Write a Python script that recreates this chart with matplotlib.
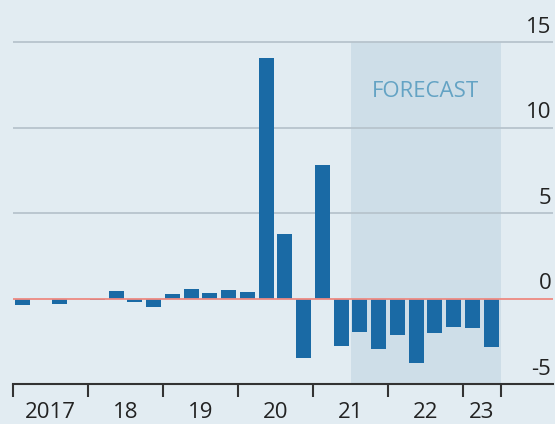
import numpy as np
import matplotlib
matplotlib.use("Agg")
import matplotlib.pyplot as plt

# quarterly values, 2017Q1 - 2023Q2
quarters = ["2017Q1", "2017Q2", "2017Q3", "2017Q4",
            "2018Q1", "2018Q2", "2018Q3", "2018Q4",
            "2019Q1", "2019Q2", "2019Q3", "2019Q4",
            "2020Q1", "2020Q2", "2020Q3", "2020Q4",
            "2021Q1", "2021Q2", "2021Q3", "2021Q4",
            "2022Q1", "2022Q2", "2022Q3", "2022Q4",
            "2023Q1", "2023Q2"]
values = [-0.4, 0.0, -0.33, 0.0,
          -0.06, 0.47, -0.18, -0.47,
          0.25, 0.55, 0.31, 0.5,
          0.37, 14.1, 3.78, -3.48,
          7.8, -2.75, -1.97, -2.96,
          -2.16, -3.78, -1.99, -1.64,
          -1.71, -2.82]
year_labels = ["2017", "18", "19", "20", "21", "22", "23"]
year_label_pos = [1.5, 5.5, 9.5, 13.5, 17.5, 21.5, 24.5]
year_ticks = [-0.5, 3.5, 7.5, 11.5, 15.5, 19.5, 23.5, 25.5]
yticks = [15, 10, 5, 0, -5]
forecast_start = 17.5   # start of 2021Q3
forecast_end = 25.5

bg = "#e2ecf2"
fig = plt.figure(figsize=(5.55, 4.24), dpi=100, facecolor=bg)
ax = fig.add_axes([13/555, 40/424, 540/555, 384/424])
ax.set_facecolor(bg)

x = np.arange(len(values))
ax.set_xlim(-0.5, 28.3)
ax.set_ylim(-5, 17.47)

# forecast shade
ax.fill_between([forecast_start, forecast_end], -5, 15, color="#cedee8", lw=0, zorder=0)
ax.text((forecast_start + forecast_end) / 2, 12.1, "FORECAST", color="#64a3c4",
        fontsize=16, ha="center", va="center", family="Open Sans")

for g in [5, 10, 15]:
    ax.axhline(g, color="#b7c4cd", lw=1.3, zorder=1)

ax.bar(x, values, width=0.8, color="#1a6aa5", zorder=2)
ax.axhline(0, color="#ee8a82", lw=1.3, zorder=3)

for v in yticks:
    ax.text(28.2, v + 0.25, str(v), ha="right", va="bottom", fontsize=16,
            color="#222222", family="Open Sans", zorder=4)

for s in ["top", "right", "left"]:
    ax.spines[s].set_visible(False)
ax.spines["bottom"].set_color("#333333")
ax.spines["bottom"].set_linewidth(1.5)
ax.set_yticks([])
ax.set_xticks(year_ticks)
ax.set_xticklabels([])
ax.tick_params(axis="x", length=9, width=1.5, color="#333333", direction="out")
ax.set_xticks(year_label_pos, minor=True)
ax.set_xticklabels(year_labels, minor=True, fontsize=16, color="#222222", family="Open Sans")
ax.tick_params(axis="x", which="minor", length=0, pad=13)

fig.savefig("out.png", dpi=100, facecolor=bg)
